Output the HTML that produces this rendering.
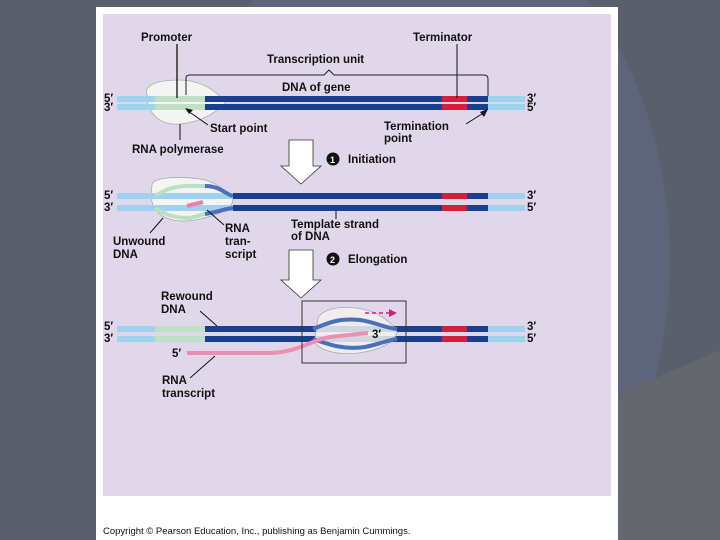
<!DOCTYPE html>
<html><head><style>
html,body{margin:0;width:720px;height:540px;overflow:hidden;background:#5a5f6c;font-family:"Liberation Sans",sans-serif}
svg{display:block;position:absolute;left:0;top:0}
</style></head><body>
<svg width="720" height="540" xmlns="http://www.w3.org/2000/svg">
<rect width="720" height="540" fill="#5a5f6c"/>
<ellipse cx="420" cy="260" rx="250" ry="350" fill="#5e6479"/>
<polygon points="560,420 720,350 720,540 560,540" fill="#64666e"/>
<rect x="96" y="7" width="522" height="533" fill="#fff"/>
<rect x="103" y="14" width="508" height="482" fill="#e0d8ea"/>
<g font-weight="bold" font-size="11.5" fill="#111">
<!-- ROW 1 -->
<path d="M147,95 C143,84 160,80 180,80 C200,80 215,90 226,102 C215,114 200,122 180,124 C160,126 146,112 147,95 Z" fill="#f4f4f2" stroke="#aaa" stroke-width="0.8"/>
<rect x="117" y="96" width="408" height="6" fill="#9fd2ee"/>
<rect x="117" y="104" width="408" height="6" fill="#9fd2ee"/>
<rect x="155" y="96" width="50" height="6" fill="#bfe0c4"/><rect x="155" y="104" width="50" height="6" fill="#bfe0c4"/>
<rect x="205" y="96" width="283" height="6" fill="#1a3f8e"/><rect x="205" y="104" width="283" height="6" fill="#1a3f8e"/>
<rect x="442" y="96" width="25" height="6" fill="#d0203a"/><rect x="442" y="104" width="25" height="6" fill="#d0203a"/>
<text x="104" y="102">5′</text><text x="104" y="111">3′</text>
<text x="527" y="102">3′</text><text x="527" y="111">5′</text>
<text x="141" y="41">Promoter</text><line x1="177" y1="44" x2="177" y2="98" stroke="#111" stroke-width="1.3"/>
<text x="413" y="41">Terminator</text><line x1="457" y1="44" x2="457" y2="98" stroke="#111" stroke-width="1"/>
<text x="267" y="63">Transcription unit</text>
<path d="M186,95 V78 Q186,75 190,75 H324 L329,70 L334,75 H484 Q488,75 488,79 V96" fill="none" stroke="#222" stroke-width="1"/>
<text x="282" y="91">DNA of gene</text>
<line x1="208" y1="125" x2="188" y2="111" stroke="#111"/><polygon points="185,108 193,110 189,114" fill="#111"/>
<text x="210" y="132">Start point</text>
<line x1="180" y1="124" x2="180" y2="140" stroke="#111"/>
<text x="132" y="153">RNA polymerase</text>
<text x="384" y="130">Termination</text><text x="384" y="142">point</text>
<line x1="466" y1="124" x2="485" y2="112" stroke="#111"/><polygon points="488,109 484,117 480,112" fill="#111"/>
<polygon points="289,140 313,140 313,166 321,166 301,184 281,166 289,166" fill="#fff" stroke="#333" stroke-width="0.8"/>
<circle cx="333" cy="159" r="6.5" fill="#111"/><text x="330" y="163" fill="#fff" font-size="9">1</text>
<text x="348" y="163">Initiation</text>
<!-- ROW 2 -->
<path d="M152,186 C150,176 185,176 205,180 C220,184 232,196 233,200 C232,208 222,214 200,219 C170,226 146,215 152,186 Z" fill="#f4f4f2" stroke="#aaa" stroke-width="0.8"/>
<rect x="117" y="193" width="408" height="6" fill="#9fd2ee"/>
<rect x="117" y="205" width="408" height="6" fill="#9fd2ee"/>
<rect x="233" y="193" width="255" height="6" fill="#1a3f8e"/><rect x="233" y="205" width="255" height="6" fill="#1a3f8e"/>
<rect x="442" y="193" width="25" height="6" fill="#d0203a"/><rect x="442" y="205" width="25" height="6" fill="#d0203a"/>
<path d="M155,196 C165,190 172,186 190,186 L205,186" fill="none" stroke="#b8e0c4" stroke-width="4"/>
<path d="M155,208 C165,215 175,218 190,218 L205,214" fill="none" stroke="#b8e0c4" stroke-width="4"/>
<path d="M205,186 C220,186 225,194 233,196" fill="none" stroke="#4a70b8" stroke-width="4"/>
<path d="M205,214 C218,212 224,209 233,208" fill="none" stroke="#4a70b8" stroke-width="4"/>
<path d="M187,206 L203,202" stroke="#ec7fa8" stroke-width="4"/>
<text x="104" y="199">5′</text><text x="104" y="211">3′</text>
<text x="527" y="199">3′</text><text x="527" y="211">5′</text>
<line x1="163" y1="218" x2="150" y2="233" stroke="#111"/>
<text x="113" y="245">Unwound</text><text x="113" y="258">DNA</text>
<line x1="207" y1="210" x2="224" y2="225" stroke="#111"/>
<text x="225" y="232">RNA</text><text x="225" y="245">tran-</text><text x="225" y="258">script</text>
<line x1="336" y1="211" x2="336" y2="219" stroke="#111"/>
<text x="291" y="228">Template strand</text><text x="291" y="240">of DNA</text>
<polygon points="289,250 313,250 313,280 321,280 301,298 281,280 289,280" fill="#fff" stroke="#333" stroke-width="0.8"/>
<circle cx="333" cy="259" r="6.5" fill="#111"/><text x="330" y="263" fill="#fff" font-size="9">2</text>
<text x="348" y="263">Elongation</text>
<!-- ROW 3 -->
<rect x="117" y="326" width="408" height="6" fill="#9fd2ee"/>
<rect x="117" y="336" width="408" height="6" fill="#9fd2ee"/>
<rect x="155" y="326" width="50" height="6" fill="#bfe0c4"/><rect x="155" y="336" width="50" height="6" fill="#bfe0c4"/>
<rect x="205" y="326" width="283" height="6" fill="#1a3f8e"/><rect x="205" y="336" width="283" height="6" fill="#1a3f8e"/>
<rect x="442" y="326" width="25" height="6" fill="#d0203a"/><rect x="442" y="336" width="25" height="6" fill="#d0203a"/>
<path d="M318,318 C325,306 350,305 370,311 C385,316 396,328 397,332 C396,340 385,348 365,352 C340,357 312,350 315,338 Z" fill="#f1f1ef" fill-opacity="0.85" stroke="#aaa" stroke-width="0.8"/>
<path d="M313,329 C330,322 340,318 360,320 C375,322 385,328 397,329" fill="none" stroke="#4a70b8" stroke-width="4"/>
<path d="M313,339 C330,345 345,350 365,347 C380,344 388,340 397,339" fill="none" stroke="#4a70b8" stroke-width="4"/>
<path d="M187,353 L270,353 C300,352 310,340 330,337 L368,333" fill="none" stroke="#ec8fb2" stroke-width="4"/>
<rect x="302" y="301" width="104" height="62" fill="none" stroke="#333" stroke-width="1"/>
<line x1="365" y1="313" x2="389" y2="313" stroke="#d0207a" stroke-width="1.5" stroke-dasharray="4,3"/>
<polygon points="389,309 397,313 389,317" fill="#d0207a"/>
<text x="372" y="338">3′</text><text x="172" y="357">5′</text>
<text x="104" y="330">5′</text><text x="104" y="342">3′</text>
<text x="527" y="330">3′</text><text x="527" y="342">5′</text>
<text x="161" y="300">Rewound</text><text x="161" y="313">DNA</text>
<line x1="200" y1="311" x2="217" y2="326" stroke="#111"/>
<line x1="215" y1="356" x2="190" y2="378" stroke="#111"/>
<text x="162" y="384">RNA</text><text x="162" y="397">transcript</text>
</g>
<text x="103" y="534" font-size="9.5" fill="#111">Copyright © Pearson Education, Inc., publishing as Benjamin Cummings.</text>
</svg>
</body></html>
